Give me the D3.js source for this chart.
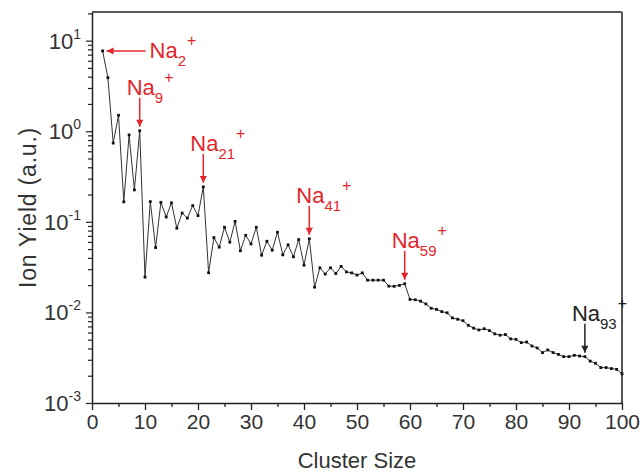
<!DOCTYPE html>
<html>
<head>
<meta charset="utf-8">
<script src="https://cdn.jsdelivr.net/npm/d3@7"></script>
<style>
  html, body { margin: 0; padding: 0; background: #fff; }
  svg { display: block; font-family: Arial, "Liberation Sans", Helvetica, sans-serif; }
</style>
</head>
<body>
<svg id="chart" width="642" height="473"></svg>
<script>
// ---- data ----
const clusterSizes = d3.range(2, 101);
const ionYield = [
  7.7, 3.9, 0.74, 1.5, 0.166, 0.91, 0.225, 1.01, 0.0245,          // 2-10
  0.167, 0.052, 0.164, 0.113, 0.162, 0.085, 0.125, 0.110, 0.151, 0.117, // 11-20
  0.243, 0.0274, 0.067, 0.0525, 0.087, 0.0596, 0.101, 0.048, 0.071, 0.057, // 21-30
  0.087, 0.0428, 0.061, 0.0486, 0.0767, 0.0432, 0.0557, 0.0411, 0.0637, 0.0332, // 31-40
  0.0649, 0.019, 0.0311, 0.0265, 0.0311, 0.0269, 0.0322, 0.028, 0.0273, 0.0258, // 41-50
  0.0273, 0.0227, 0.0227, 0.0227, 0.0227, 0.0195, 0.0194, 0.0199, 0.0207, 0.0139, // 51-60
  0.0138, 0.0133, 0.0124, 0.0111, 0.0108, 0.0102, 0.0099, 0.0087, 0.0084, 0.0081, // 61-70
  0.0072, 0.0067, 0.0064, 0.0066, 0.0063, 0.0058, 0.0056, 0.0057, 0.0051, 0.00504, // 71-80
  0.00464, 0.00471, 0.00426, 0.00405, 0.0036, 0.00385, 0.0036, 0.00344, 0.00325, 0.00325, // 81-90
  0.00336, 0.0033, 0.00325, 0.0029, 0.00274, 0.00246, 0.00246, 0.0024, 0.00235, 0.0021 // 91-100
];
const xTicks = [0, 10, 20, 30, 40, 50, 60, 70, 80, 90, 100];
const xMinorTicks = [5, 15, 25, 35, 45, 55, 65, 75, 85, 95];
const yTickExponents = [1, 0, -1, -2, -3];
const annotatedSizes = [2, 9, 21, 41, 59, 93];
const annotationColors = ["#e3262b", "#e3262b", "#e3262b", "#e3262b", "#e3262b", "#222222"];

// ---- layout ----
const svg = d3.select("#chart");
const pL = 92, pR = 622, pT = 12, pB = 403;
const x = d3.scaleLinear().domain([0, 100]).range([pL, pR]);
const y = d3.scaleLog().domain([1e-3, 20.7]).range([pB, pT]);
const data = clusterSizes.map((n, i) => ({ n, v: ionYield[i] }));
const axisColor = "#222";

// arrow markers
const defs = svg.append("defs");
function marker(id, color) {
  defs.append("marker").attr("id", id).attr("viewBox", "0 0 10 10")
    .attr("refX", 10).attr("refY", 5).attr("markerWidth", 9).attr("markerHeight", 7)
    .attr("markerUnits", "userSpaceOnUse").attr("orient", "auto")
    .append("path").attr("d", "M0,0 L10,5 L0,10 Z").attr("fill", color);
}
annotationColors.forEach((c, i) => marker("arr" + i, c));

// frame (top + right)
svg.append("line").attr("x1", pL).attr("x2", pR).attr("y1", pT).attr("y2", pT)
  .attr("stroke", axisColor).attr("stroke-width", 1.5);
svg.append("line").attr("x1", pR).attr("x2", pR).attr("y1", pT).attr("y2", pB)
  .attr("stroke", "#555").attr("stroke-width", 2);

// x axis
const gx = svg.append("g").attr("transform", `translate(0,${pB})`);
gx.call(d3.axisBottom(x).tickValues(xTicks).tickSize(7).tickSizeOuter(0).tickPadding(4)
  .tickFormat(d3.format("d")));
const gxm = svg.append("g").attr("transform", `translate(0,${pB})`);
gxm.call(d3.axisBottom(x).tickValues(xMinorTicks).tickSize(4).tickSizeOuter(0).tickFormat(""));
gxm.select(".domain").remove();
[gx, gxm].forEach(g => {
  g.selectAll("line").attr("stroke", axisColor).attr("stroke-width", 1.3);
  g.selectAll(".domain").attr("stroke", axisColor).attr("stroke-width", 1.5);
});
gx.selectAll("text").attr("font-size", 21).attr("fill", "#333")
  .attr("font-family", "Arial, 'Liberation Sans', sans-serif");

// y axis
const yMajor = yTickExponents.map(e => Math.pow(10, e));
const yMinor = [];
for (let e = -3; e <= 1; e++) for (let m = 2; m <= 9; m++) {
  const v = m * Math.pow(10, e);
  if (v <= 20.7) yMinor.push(v);
}
const gy = svg.append("g").attr("transform", `translate(${pL},0)`);
gy.call(d3.axisLeft(y).tickValues(yMajor).tickSize(6).tickSizeOuter(0).tickFormat(""));
const gym = svg.append("g").attr("transform", `translate(${pL},0)`);
gym.call(d3.axisLeft(y).tickValues(yMinor).tickSize(4).tickSizeOuter(0).tickFormat(""));
gym.select(".domain").remove();
[gy, gym].forEach(g => {
  g.selectAll("line").attr("stroke", axisColor).attr("stroke-width", 1.2);
  g.selectAll(".domain").attr("stroke", axisColor).attr("stroke-width", 1.5);
});
// y tick labels with superscripts
yTickExponents.forEach(e => {
  const t = svg.append("text").attr("x", 81).attr("y", y(Math.pow(10, e)) + 8)
    .attr("text-anchor", "end").attr("fill", "#333").attr("font-size", 22);
  t.append("tspan").text("10");
  t.append("tspan").attr("dy", -10).attr("font-size", 14).text(String(e));
});

// axis titles
svg.append("text").attr("x", (pL + pR) / 2).attr("y", 468).attr("text-anchor", "middle")
  .attr("font-size", 22).attr("fill", "#333").text("Cluster Size");
svg.append("text").attr("transform", `translate(36,${(pT + pB) / 2}) rotate(-90)`)
  .attr("text-anchor", "middle").attr("font-size", 23).attr("letter-spacing", 0.8)
  .attr("fill", "#333").text("Ion Yield (a.u.)");

// data line + markers
svg.append("path").datum(data)
  .attr("d", d3.line().x(d => x(d.n)).y(d => y(d.v)))
  .attr("fill", "none").attr("stroke", "#333").attr("stroke-width", 1);
svg.selectAll("rect.pt").data(data).enter().append("rect").attr("class", "pt")
  .attr("x", d => x(d.n) - 1.4).attr("y", d => y(d.v) - 1.4)
  .attr("width", 2.8).attr("height", 2.8).attr("fill", "#111");

// annotations
annotatedSizes.forEach((n, i) => {
  const d = data.find(p => p.n === n);
  const px = x(d.n), py = y(d.v);
  const col = annotationColors[i];
  const g = svg.append("g");
  let tx, ty;
  if (i === 0) {
    g.append("line").attr("x1", px + 43).attr("y1", py).attr("x2", px + 4).attr("y2", py)
      .attr("stroke", col).attr("stroke-width", 1.5).attr("marker-end", `url(#arr${i})`);
    tx = px + 47; ty = py + 7;
  } else {
    const tip = py - 4, tail = py - 33;
    g.append("line").attr("x1", px).attr("y1", tail).attr("x2", px).attr("y2", tip)
      .attr("stroke", col).attr("stroke-width", 1.5).attr("marker-end", `url(#arr${i})`);
    tx = px - 13; ty = tail - 3;
  }
  const t = g.append("text").attr("x", tx).attr("y", ty).attr("fill", col).attr("font-size", 22);
  t.append("tspan").text("Na");
  t.append("tspan").attr("dy", 8).attr("font-size", 15).text(String(n));
  t.append("tspan").attr("dy", -20).attr("dx", 1).attr("font-size", 16).text("+");
});
</script>
</body>
</html>
